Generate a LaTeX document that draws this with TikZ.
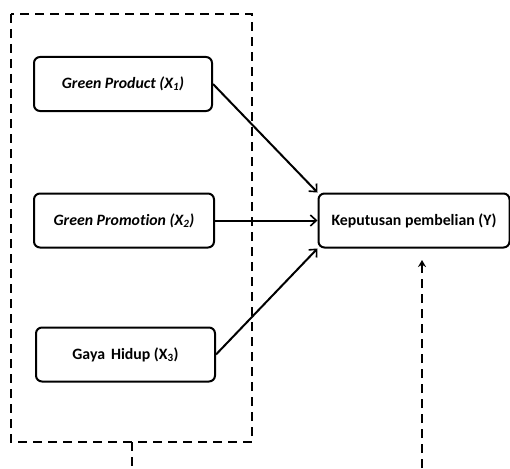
\documentclass[tikz,border=0pt]{standalone}
\usepackage{fontspec}
\setmainfont{Carlito}[Ligatures=NoCommon]
\usetikzlibrary{arrows.meta}
\begin{document}
\begin{tikzpicture}[x=1pt,y=-1pt,
  var/.style={draw,line width=2pt,rounded corners=6pt,minimum height=54pt,inner sep=0pt,font=\fontsize{15.8}{18}\selectfont\bfseries},
  conn/.style={line width=2pt,-{Straight Barb[length=6pt,width=11pt,line width=1.6pt]}},
  dsh/.style={line width=2pt,dash pattern=on 9pt off 6pt}]
\useasboundingbox (0,0) rectangle (510,468);
\draw[dsh] (11,14) rectangle (252,442);
\node[var,minimum width=178pt] (x1) at (123,84) {\itshape Green Product (X\textsubscript{1})};
\node[var,minimum width=180pt] (x2) at (124,220.5) {\itshape Green Promotion (X\textsubscript{2})};
\node[var,minimum width=179pt] (x3) at (125.5,354.5) {Gaya\hspace{6pt}Hidup (X\textsubscript{3})};
\node[var,minimum width=191pt] (y) at (414,220.5) {Keputusan pembelian (Y)};
\draw[conn] (x1.east) -- (y.north west);
\draw[conn] (x2.east) -- (y.west);
\draw[conn] (x3.east) -- (y.south west);
\coordinate (b1) at (132,442);
\coordinate (b2) at (132,468);
\coordinate (c1) at (422,468);
\coordinate (c2) at (422,260);
\draw[dsh] (b1) -- (b2);
\draw[dsh,-{Stealth[length=7pt,width=8pt]}] (c1) -- (c2);
\end{tikzpicture}
\end{document}
